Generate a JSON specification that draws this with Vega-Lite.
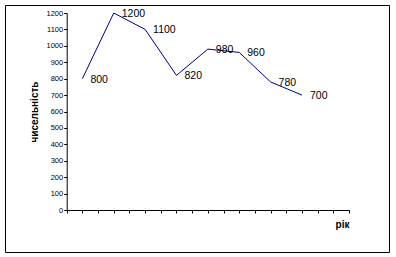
{
  "$schema": "https://vega.github.io/schema/vega-lite/v6.json",
  "width": 384,
  "height": 247,
  "autosize": {"type": "none"},
  "padding": {"left": 5, "top": 5, "right": 7, "bottom": 5},
  "background": "white",
  "config": {
    "view": {"stroke": "black", "strokeWidth": 1},
    "axis": {
      "grid": false,
      "domainColor": "black",
      "tickColor": "black",
      "labelColor": "black",
      "titleColor": "black",
      "labelFont": "Liberation Sans",
      "titleFont": "Liberation Sans"
    }
  },
  "data": {
    "values": [
      {"step": 1, "count": 800},
      {"step": 3, "count": 1200},
      {"step": 5, "count": 1100},
      {"step": 7, "count": 820},
      {"step": 9, "count": 980},
      {"step": 11, "count": 960},
      {"step": 13, "count": 780},
      {"step": 15, "count": 700}
    ]
  },
  "encoding": {
    "x": {
      "field": "step",
      "type": "quantitative",
      "scale": {"domain": [0, 18], "range": [61.7, 344], "nice": false, "zero": false},
      "axis": {
        "orient": "bottom",
        "offset": -42,
        "values": [0, 1, 2, 3, 4, 5, 6, 7, 8, 9, 10, 11, 12, 13, 14, 15, 16, 17, 18],
        "labels": false,
        "tickSize": 3,
        "title": "рік",
        "titleFontWeight": "bold",
        "titleFontSize": 10,
        "titleAnchor": "end",
        "titlePadding": 6
      }
    },
    "y": {
      "field": "count",
      "type": "quantitative",
      "scale": {"domain": [0, 1200], "range": [205, 8], "nice": false, "zero": true},
      "axis": {
        "offset": -61.7,
        "values": [0, 100, 200, 300, 400, 500, 600, 700, 800, 900, 1000, 1100, 1200],
        "format": "d",
        "tickSize": 3,
        "labelPadding": 1,
        "labelFontSize": 7.5,
        "title": "чисельність",
        "titleFontWeight": "bold",
        "titleFontSize": 10,
        "titlePadding": 7
      }
    }
  },
  "layer": [
    {"mark": {"type": "line", "color": "#000080", "strokeWidth": 1}},
    {
      "mark": {"type": "text", "align": "left", "baseline": "middle", "dx": 8, "dy": 1, "font": "Liberation Sans", "fontSize": 10.5, "color": "black"},
      "encoding": {"text": {"field": "count", "type": "quantitative"}}
    }
  ]
}
